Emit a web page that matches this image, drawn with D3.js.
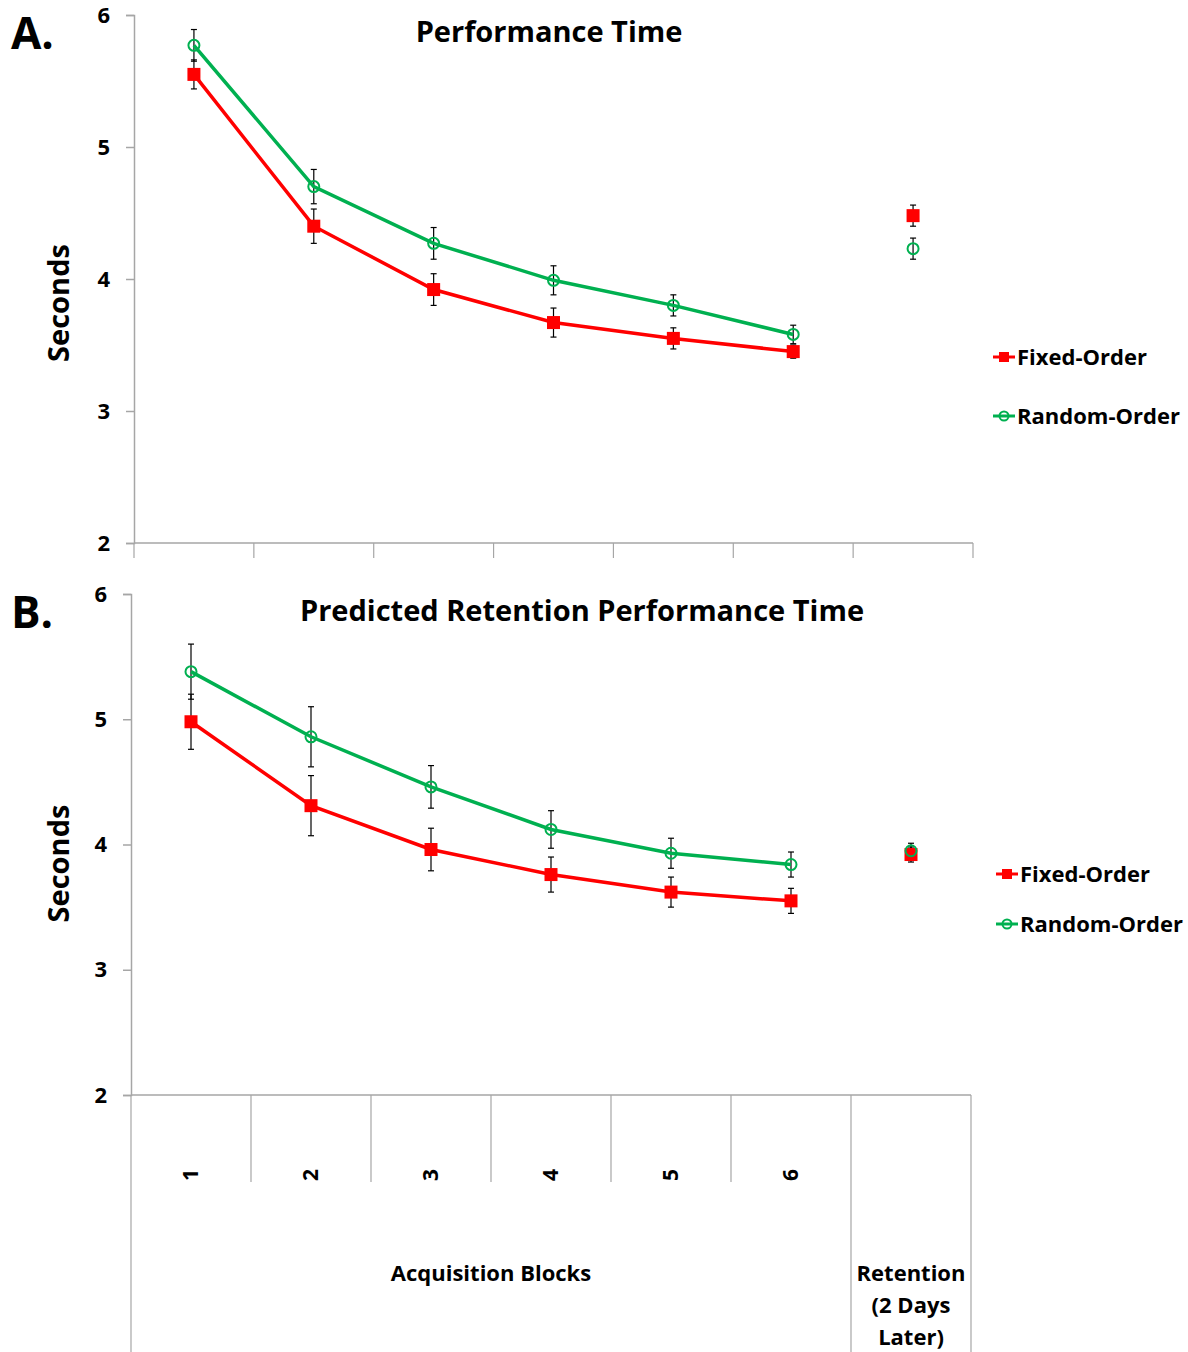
<!DOCTYPE html>
<html>
<head>
<meta charset="utf-8">
<script src="https://cdn.jsdelivr.net/npm/d3@7"></script>
<style>
  body { margin: 0; background: #fff; }
  text { font-family: "Open Sans", Lato, sans-serif; font-weight: bold; fill: #000; }
</style>
</head>
<body>
<div id="chart"></div>
<script>
// categories
var blocks = ["1", "2", "3", "4", "5", "6"];
var retentionCat = "R";
var categories = blocks.concat([retentionCat]);
var retentionLines = ["Retention", "(2 Days", "Later)"];
var yTicks = [2, 3, 4, 5, 6];

// Panel A: Performance Time
var fixedA = [5.55, 4.40, 3.92, 3.67, 3.55, 3.45];
var fixedAErr = [0.11, 0.13, 0.12, 0.11, 0.08, 0.05];
var fixedARet = 4.48, fixedARetErr = 0.08;
var randomA = [5.77, 4.70, 4.27, 3.99, 3.80, 3.58];
var randomAErr = [0.12, 0.13, 0.12, 0.11, 0.08, 0.07];
var randomARet = 4.23, randomARetErr = 0.08;

// Panel B: Predicted Retention Performance Time
var fixedB = [4.98, 4.31, 3.96, 3.76, 3.62, 3.55];
var fixedBErr = [0.22, 0.24, 0.17, 0.14, 0.12, 0.10];
var fixedBRet = 3.92, fixedBRetErr = 0.06;
var randomB = [5.38, 4.86, 4.46, 4.12, 3.93, 3.84];
var randomBErr = [0.22, 0.24, 0.17, 0.15, 0.12, 0.10];
var randomBRet = 3.95, randomBRetErr = 0.06;

var RED = "#ff0000", GREEN = "#00b050", AXIS = "#a6a6a6";

var svg = d3.select("#chart").append("svg")
    .attr("width", 1188)
    .attr("height", 1352);

function panel(opt) {
    var g = svg.append("g");
    var x = d3.scaleBand().domain(categories).range([opt.left, opt.right]).padding(0);
    var y = d3.scaleLinear().domain([2, 6]).range([opt.bottom, opt.top]);
    var cx = function(c) { return x(c) + x.bandwidth() / 2; };

    // y axis
    var yAxis = g.append("g")
        .attr("transform", "translate(" + opt.left + ",0)")
        .call(d3.axisLeft(y).tickValues(yTicks).tickFormat(d3.format("d")).tickSize(8).tickPadding(16));
    yAxis.select(".domain").attr("stroke", AXIS).attr("stroke-width", 1.5);
    yAxis.selectAll(".tick line").attr("stroke", AXIS).attr("stroke-width", 1.5);
    yAxis.selectAll(".tick text")
        .style("font-size", "22px").style("font-family", "'Open Sans', sans-serif").style("font-weight", "bold");

    // x axis baseline
    g.append("line")
        .attr("x1", opt.left).attr("x2", opt.right)
        .attr("y1", opt.bottom).attr("y2", opt.bottom)
        .attr("stroke", AXIS).attr("stroke-width", 1.5);

    // category boundary ticks
    var bounds = categories.map(function(c) { return x(c); }).concat([opt.right]);
    g.selectAll(".xtick").data(bounds).enter().append("line")
        .attr("x1", function(d) { return d; }).attr("x2", function(d) { return d; })
        .attr("y1", opt.bottom)
        .attr("y2", function(d, i) {
            if (!opt.labels) return opt.bottom + 15;
            return (i === 0 || i >= 6) ? 1352 : opt.bottom + 87;
        })
        .attr("stroke", AXIS).attr("stroke-width", 1.2);

    if (opt.labels) {
        g.selectAll(".xlab").data(blocks).enter().append("text")
            .attr("transform", function(d) { return "translate(" + (cx(d) + 7) + "," + (opt.bottom + 80) + ") rotate(-90)"; })
            .attr("text-anchor", "middle")
            .style("font-size", "21px")
            .text(function(d) { return d; });
        g.append("text")
            .attr("x", (x("1") + x("6") + x.bandwidth()) / 2)
            .attr("y", opt.bottom + 186)
            .attr("text-anchor", "middle")
            .style("font-size", "22px")
            .text("Acquisition Blocks");
        g.selectAll(".rlab").data(retentionLines).enter().append("text")
            .attr("x", cx(retentionCat))
            .attr("y", function(d, i) { return opt.bottom + 186 + i * 32; })
            .attr("text-anchor", "middle")
            .style("font-size", "22px")
            .text(function(d) { return d; });
    }

    // y title
    g.append("text")
        .attr("transform", "translate(" + 69 + "," + ((opt.top + opt.bottom) / 2 + opt.ytOffset) + ") rotate(-90)")
        .attr("text-anchor", "middle")
        .style("font-size", "29px")
        .text("Seconds");

    // chart title
    g.append("text")
        .attr("x", opt.titleX).attr("y", opt.top + 27)
        .attr("text-anchor", "middle")
        .style("font-size", "29px")
        .text(opt.title);

    // panel letter
    g.append("text")
        .attr("x", 11).attr("y", opt.top + 34)
        .style("font-size", "44px")
        .text(opt.letter);

    var series = [
        { vals: opt.fixed, err: opt.fixedErr, ret: opt.fixedRet, retErr: opt.fixedRetErr, color: RED, shape: "square" },
        { vals: opt.random, err: opt.randomErr, ret: opt.randomRet, retErr: opt.randomRetErr, color: GREEN, shape: "circle" }
    ];

    // error bars
    series.forEach(function(s) {
        var pts = s.vals.map(function(v, i) { return { c: blocks[i], v: v, e: s.err[i] }; });
        pts.push({ c: retentionCat, v: s.ret, e: s.retErr });
        var eb = g.append("g").attr("stroke", "#000").attr("stroke-width", 1.2);
        pts.forEach(function(p) {
            var px = cx(p.c);
            eb.append("line").attr("x1", px).attr("x2", px).attr("y1", y(p.v - p.e)).attr("y2", y(p.v + p.e));
            eb.append("line").attr("x1", px - 3).attr("x2", px + 3).attr("y1", y(p.v - p.e)).attr("y2", y(p.v - p.e));
            eb.append("line").attr("x1", px - 3).attr("x2", px + 3).attr("y1", y(p.v + p.e)).attr("y2", y(p.v + p.e));
        });
    });

    var line = d3.line()
        .x(function(d, i) { return cx(blocks[i]); })
        .y(function(d) { return y(d); });

    series.forEach(function(s) {
        g.append("path").datum(s.vals)
            .attr("d", line)
            .attr("fill", "none")
            .attr("stroke", s.color)
            .attr("stroke-width", 3.5);
    });

    series.forEach(function(s) {
        var pts = s.vals.map(function(v, i) { return { c: blocks[i], v: v }; });
        pts.push({ c: retentionCat, v: s.ret });
        if (s.shape === "square") {
            g.selectAll(null).data(pts).enter().append("rect")
                .attr("x", function(d) { return cx(d.c) - 6.5; })
                .attr("y", function(d) { return y(d.v) - 6.5; })
                .attr("width", 13).attr("height", 13)
                .attr("fill", s.color);
        } else {
            g.selectAll(null).data(pts).enter().append("circle")
                .attr("cx", function(d) { return cx(d.c); })
                .attr("cy", function(d) { return y(d.v); })
                .attr("r", 5.5)
                .attr("fill", "none")
                .attr("stroke", s.color)
                .attr("stroke-width", 2);
        }
    });

    // legend
    var legNames = ["Fixed-Order", "Random-Order"];
    series.forEach(function(s, i) {
        var ly = opt.legendY + i * opt.legendGap;
        var lx = opt.legendX;
        g.append("line").attr("x1", lx).attr("x2", lx + 22).attr("y1", ly).attr("y2", ly)
            .attr("stroke", s.color).attr("stroke-width", 3);
        if (s.shape === "square") {
            g.append("rect").attr("x", lx + 6).attr("y", ly - 5).attr("width", 10).attr("height", 10).attr("fill", s.color);
        } else {
            g.append("circle").attr("cx", lx + 11).attr("cy", ly).attr("r", 4.5)
                .attr("fill", "none").attr("stroke", s.color).attr("stroke-width", 2);
        }
        g.append("text").attr("x", lx + 24).attr("y", ly + 8)
            .style("font-size", "22px")
            .text(legNames[i]);
    });
}

panel({
    left: 134, right: 973, top: 15, bottom: 543,
    title: "Performance Time", titleX: 549, letter: "A.", ytOffset: 24,
    fixed: fixedA, fixedErr: fixedAErr, fixedRet: fixedARet, fixedRetErr: fixedARetErr,
    random: randomA, randomErr: randomAErr, randomRet: randomARet, randomRetErr: randomARetErr,
    legendX: 993, legendY: 357, legendGap: 59, labels: false
});

panel({
    left: 131, right: 971, top: 594, bottom: 1095,
    title: "Predicted Retention Performance Time", titleX: 582, letter: "B.", ytOffset: 19,
    fixed: fixedB, fixedErr: fixedBErr, fixedRet: fixedBRet, fixedRetErr: fixedBRetErr,
    random: randomB, randomErr: randomBErr, randomRet: randomBRet, randomRetErr: randomBRetErr,
    legendX: 996, legendY: 874, legendGap: 50, labels: true
});
</script>
</body>
</html>
